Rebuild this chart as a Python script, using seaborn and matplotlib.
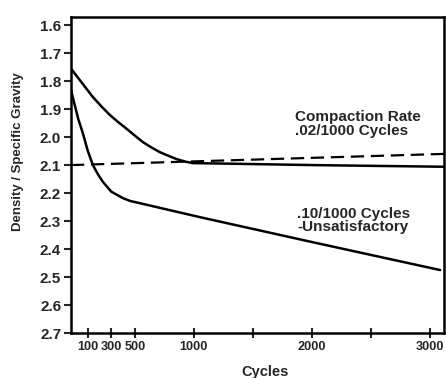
import pandas as pd
import matplotlib.pyplot as plt
import seaborn as sns

# --- Werte ---
cycles_upper = [-42, 40, 144, 220, 288, 360, 432, 500, 568, 640, 712, 790, 856, 930, 992, 1300, 2000, 3120]
density_upper = [1.755, 1.80, 1.857, 1.892, 1.921, 1.947, 1.971, 1.995, 2.018, 2.037,
                 2.054, 2.068, 2.079, 2.088, 2.093, 2.095, 2.10, 2.106]

cycles_lower = [-42, -10, 20, 59, 100, 144, 190, 229, 300, 398, 458, 520, 1050, 2000, 3085]
density_lower = [1.83, 1.885, 1.935, 1.986, 2.048, 2.10, 2.135, 2.16, 2.195, 2.218, 2.228, 2.234,
                 2.286, 2.375, 2.475]

cycles_rate = [-42, 3120]
density_rate = [2.10, 2.06]

x_ticks = [100, 300, 500, 1000, 1500, 2000, 2500, 3000]
x_labels = ['100', '300', '500', '1000', '', '2000', '', '3000']
y_ticks = [1.6, 1.7, 1.8, 1.9, 2.0, 2.1, 2.2, 2.3, 2.4, 2.5, 2.6, 2.7]

sns.set_style("ticks")
plt.rcParams['font.family'] = ['Liberation Sans', 'DejaVu Sans']

fig = plt.figure(figsize=(4.46, 3.78), dpi=100)
ax = fig.add_axes([0.159, 0.119, 0.837, 0.836])

df_upper = pd.DataFrame({'cycles': cycles_upper, 'density': density_upper})
df_lower = pd.DataFrame({'cycles': cycles_lower, 'density': density_lower})
df_rate = pd.DataFrame({'cycles': cycles_rate, 'density': density_rate})

sns.lineplot(data=df_upper, x='cycles', y='density', ax=ax, color='black',
             linewidth=1.8, estimator=None, sort=False)
sns.lineplot(data=df_lower, x='cycles', y='density', ax=ax, color='black',
             linewidth=1.8, estimator=None, sort=False)
sns.lineplot(data=df_rate, x='cycles', y='density', ax=ax, color='black',
             linewidth=1.6, linestyle=(0, (6, 3)), estimator=None, sort=False)

ax.set_xlim(-42, 3120)
ax.set_ylim(2.7, 1.571)

ax.set_xticks(x_ticks)
ax.set_xticklabels(x_labels)
ax.set_yticks(y_ticks)
ax.set_yticklabels([f'{v:.1f}' for v in y_ticks])
ax.tick_params(axis='x', direction='inout', length=7, width=1.5, labelsize=9.2, pad=2)
ax.tick_params(axis='y', direction='out', length=5, width=1.5, labelsize=11, pad=2)
for lab in ax.get_xticklabels() + ax.get_yticklabels():
    lab.set_fontweight('bold')

for sp in ax.spines.values():
    sp.set_visible(True)
    sp.set_linewidth(1.8)
    sp.set_color('black')

ax.set_xlabel('Cycles', fontsize=10.5, fontweight='bold')
ax.set_ylabel('Density / Specific Gravity', fontsize=9.5, fontweight='bold')
ax.xaxis.set_label_coords(0.52, -0.1)
ax.yaxis.set_label_coords(-0.125, 0.573)

ax.text(0.60, 0.705, 'Compaction Rate\n.02/1000 Cycles', transform=ax.transAxes,
        fontsize=11, fontweight='bold', linespacing=0.95, va='top', ha='left')
ax.text(0.606, 0.40, '.10/1000 Cycles\n-Unsatisfactory', transform=ax.transAxes,
        fontsize=11, fontweight='bold', linespacing=0.95, va='top', ha='left')

plt.savefig('out.png', dpi=100)
plt.close()
